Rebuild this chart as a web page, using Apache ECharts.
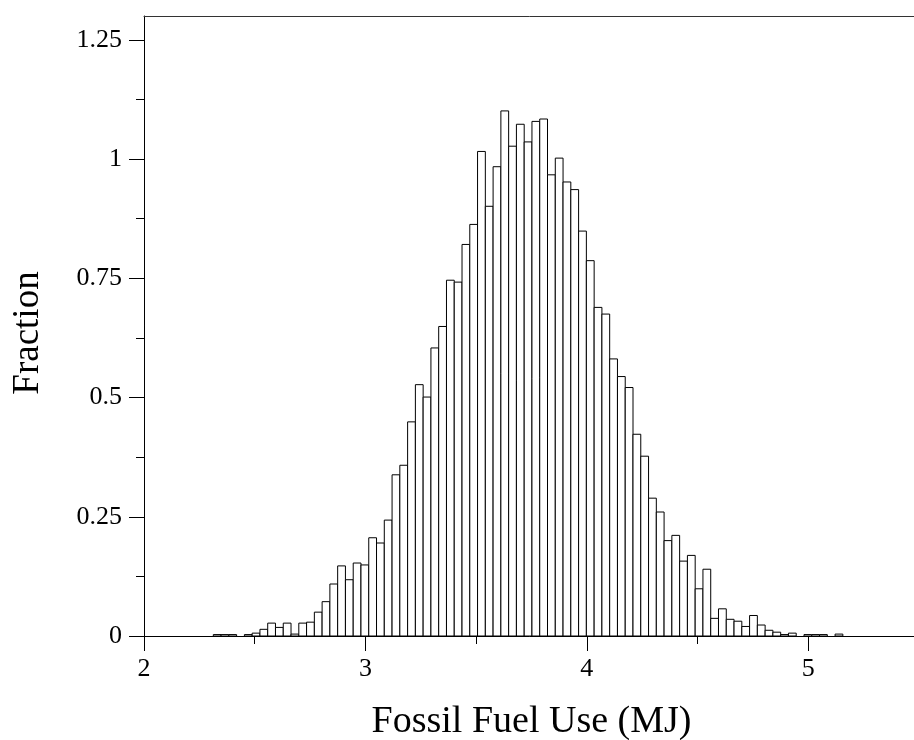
<!DOCTYPE html>
<html>
<head>
<meta charset="utf-8">
<script src="https://cdn.jsdelivr.net/npm/echarts@6/dist/echarts.min.js"></script>
<style>
  html, body { margin: 0; padding: 0; background: #fff; }
  #chart { width: 914px; height: 740px; }
</style>
</head>
<body>
<div id="chart"></div>
<script>
// Histogram of fossil fuel use: equal-width bins starting at binStart
const binStart = 2.313;
const binWidth = 0.0351;
const fractions = [
  0.003, 0.003, 0.003, 0, 0.003, 0.006, 0.014, 0.027, 0.018, 0.027,
  0.004, 0.027, 0.029, 0.050, 0.072, 0.109, 0.147, 0.118, 0.153, 0.149,
  0.206, 0.195, 0.243, 0.338, 0.358, 0.449, 0.527, 0.501, 0.604, 0.649,
  0.746, 0.742, 0.821, 0.863, 1.016, 0.901, 0.984, 1.101, 1.027, 1.073,
  1.036, 1.079, 1.084, 0.967, 1.002, 0.952, 0.936, 0.849, 0.787, 0.689,
  0.675, 0.581, 0.544, 0.521, 0.423, 0.377, 0.289, 0.260, 0.200, 0.211,
  0.157, 0.169, 0.099, 0.140, 0.037, 0.057, 0.035, 0.031, 0.020, 0.043,
  0.023, 0.012, 0.008, 0.003, 0.006, 0, 0.003, 0.003, 0.003, 0,
  0.004
];

// Axis ticks
const xMajorTicks = [2, 3, 4, 5];
const xMinorTicks = [2.5, 3.5, 4.5];
const yMajorTicks = [0, 0.25, 0.5, 0.75, 1, 1.25];
const yMinorTicks = [0.125, 0.375, 0.625, 0.875, 1.125];
const yTickLabels = ['0', '0.25', '0.5', '0.75', '1', '1.25'];

const xTitle = 'Fossil Fuel Use (MJ)';
const yTitle = 'Fraction';

const serif = 'Liberation Serif';

const bins = fractions.map((v, i) => [binStart + i * binWidth, binStart + (i + 1) * binWidth, v]);

const chart = echarts.init(document.getElementById('chart'), null, { renderer: 'canvas' });

const baseAxis = {
  type: 'value',
  splitLine: { show: false },
  axisLine: { show: false, onZero: false },
  axisLabel: { show: false },
  axisTick: { show: false }
};

chart.setOption({
  animation: false,
  backgroundColor: '#ffffff',
  grid: { left: 144, right: -5, top: 16, bottom: 104, containLabel: false, outerBoundsMode: 'none' },
  xAxis: [
    Object.assign({}, baseAxis, {
      min: 2, max: 5.5, position: 'bottom',
      axisLine: { show: true, onZero: false, lineStyle: { color: '#000', width: 1 } },
      axisTick: { show: true, customValues: xMajorTicks, length: 15, lineStyle: { color: '#000', width: 1 } },
      axisLabel: {
        show: true, customValues: xMajorTicks, margin: 20,
        fontFamily: serif, fontSize: 26, color: '#000'
      },
      name: xTitle, nameLocation: 'middle', nameGap: 67,
      nameTextStyle: { fontFamily: serif, fontSize: 38, color: '#000', verticalAlign: 'top' }
    }),
    Object.assign({}, baseAxis, {
      min: 2, max: 5.5, position: 'bottom',
      axisTick: { show: true, customValues: xMinorTicks, length: 8, lineStyle: { color: '#000', width: 1 } }
    }),
    Object.assign({}, baseAxis, {
      min: 2, max: 5.5, position: 'top',
      axisLine: { show: true, onZero: false, lineStyle: { color: '#333', width: 1 } }
    })
  ],
  yAxis: [
    Object.assign({}, baseAxis, {
      min: 0, max: 1.3, position: 'left',
      axisLine: { show: true, onZero: false, lineStyle: { color: '#000', width: 1 } },
      axisTick: { show: true, customValues: yMajorTicks, length: 15, lineStyle: { color: '#000', width: 1 } },
      axisLabel: {
        show: true, customValues: yMajorTicks, margin: 22,
        fontFamily: serif, fontSize: 26, color: '#000',
        formatter: (v) => yTickLabels[yMajorTicks.findIndex(t => Math.abs(t - v) < 1e-9)] ?? ''
      },
      name: yTitle, nameLocation: 'middle', nameGap: 97, nameRotate: 90,
      nameTextStyle: { fontFamily: serif, fontSize: 37, color: '#000', padding: [0, 14, 0, 0] }
    }),
    Object.assign({}, baseAxis, {
      min: 0, max: 1.3, position: 'left',
      axisTick: { show: true, customValues: yMinorTicks, length: 8, lineStyle: { color: '#000', width: 1 } }
    })
  ],
  series: [{
    type: 'custom',
    xAxisIndex: 0,
    yAxisIndex: 0,
    data: bins,
    clip: false,
    renderItem: function (params, api) {
      const v = api.value(2);
      if (!(v > 0)) return null;
      const p0 = api.coord([api.value(0), 0]);
      const p1 = api.coord([api.value(1), v]);
      return {
        type: 'rect',
        shape: { x: p0[0], y: p1[1], width: p1[0] - p0[0], height: p0[1] - p1[1] },
        style: { fill: '#ffffff', stroke: '#000000', lineWidth: 1 }
      };
    },
    encode: { x: [0, 1], y: 2 }
  }]
});
</script>
</body>
</html>
